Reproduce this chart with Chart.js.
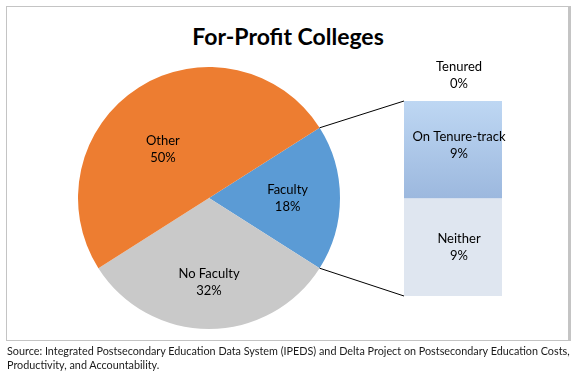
<!DOCTYPE html>
<html>
<head>
<meta charset="utf-8">
<script src="https://cdn.jsdelivr.net/npm/chart.js@4.4.0/dist/chart.umd.min.js"></script>
<style>
  html, body { margin: 0; padding: 0; background: #fff; }
  body { width: 580px; height: 381px; position: relative; overflow: hidden; font-family: Lato, "Open Sans", sans-serif; }
  #frame { position: absolute; left: 6px; top: 6px; width: 561px; height: 333px; border: 1px solid #c4c4c4; border-right: 3px solid #c4c4c4; }
  #title { position: absolute; left: 0; width: 576px; top: 22px; text-align: center; font-weight: bold; font-size: 23px; color: #000; }
  #pie { position: absolute; left: 78px; top: 67px; }
  #bar { position: absolute; left: 350px; top: 50px; }
  #links { position: absolute; left: 0; top: 0; pointer-events: none; }
  #source { position: absolute; left: 7px; top: 344px; font-size: 10.8px; line-height: 14px; color: #1a1a1a; white-space: nowrap; }
</style>
</head>
<body>
<div id="frame"></div>
<div id="title">For-Profit Colleges</div>
<canvas id="pie" width="262" height="262"></canvas>
<canvas id="bar" width="206" height="250"></canvas>
<canvas id="links" width="580" height="381"></canvas>
<div id="source">Source: Integrated Postsecondary Education Data System (IPEDS) and Delta Project on Postsecondary Education Costs,<br>Productivity, and Accountability.</div>
<script>
// pie: share of spending categories
const pieLabels = ["Faculty", "No Faculty", "Other"];
const pieValues = [18, 32, 50];
const pieColors = ["#5b9bd5", "#c9c9c9", "#ed7d31"];

// bar: breakdown of the faculty slice (stacked bottom -> top)
const barLabels = ["Neither", "On Tenure-track", "Tenured"];
const barValues = [9, 9, 0];

const labelFont = "13px Lato, 'Open Sans', sans-serif";
const pieTotal = pieValues.reduce((a, b) => a + b, 0);

// excel-ish label placement nudges (px)
const pieNudge = [[0, 0], [0, 5], [-4, 17]];

const pieLabelPlugin = {
  id: "pieLabels",
  afterDatasetsDraw(chart) {
    const ctx = chart.ctx;
    const meta = chart.getDatasetMeta(0);
    ctx.save();
    ctx.font = labelFont;
    ctx.fillStyle = "#000";
    ctx.textAlign = "center";
    ctx.textBaseline = "middle";
    meta.data.forEach((arc, i) => {
      const mid = (arc.startAngle + arc.endAngle) / 2;
      const r = arc.outerRadius * 0.6;
      const x = arc.x + Math.cos(mid) * r + pieNudge[i][0];
      const y = arc.y + Math.sin(mid) * r + pieNudge[i][1];
      const pct = Math.round(pieValues[i] / pieTotal * 100) + "%";
      ctx.fillText(pieLabels[i], x, y - 8);
      ctx.fillText(pct, x, y + 9);
    });
    ctx.restore();
  }
};

const pieChart = new Chart(document.getElementById("pie"), {
  type: "pie",
  data: {
    labels: pieLabels,
    datasets: [{ data: pieValues, backgroundColor: pieColors, borderWidth: 0 }]
  },
  options: {
    responsive: false,
    animation: false,
    rotation: 90 - pieValues[0] / pieTotal * 180,
    plugins: { legend: { display: false }, tooltip: { enabled: false } }
  },
  plugins: [pieLabelPlugin]
});

const barLabelPlugin = {
  id: "barLabels",
  afterDatasetsDraw(chart) {
    const ctx = chart.ctx;
    ctx.save();
    ctx.font = labelFont;
    ctx.fillStyle = "#000";
    ctx.textAlign = "center";
    ctx.textBaseline = "middle";
    chart.data.datasets.forEach((ds, i) => {
      const el = chart.getDatasetMeta(i).data[0];
      const top = Math.min(el.y, el.base);
      const bottom = Math.max(el.y, el.base);
      const x = el.x + 6;
      let y = (top + bottom) / 2;
      if (ds.data[0] === 0) y = top - 26;
      else if (i === 1) y -= 5;
      ctx.fillText(ds.label, x, y - 8);
      ctx.fillText(ds.data[0] + "%", x, y + 9);
    });
    ctx.restore();
  }
};

const tenureGradient = (c) => {
  const chart = c.chart;
  if (!chart.chartArea) return "#abc6e8";
  const y = chart.scales.y;
  const g = chart.ctx.createLinearGradient(0, y.getPixelForValue(barValues[0] + barValues[1]), 0, y.getPixelForValue(barValues[0]));
  g.addColorStop(0, "#bed7f3");
  g.addColorStop(1, "#9cb8de");
  return g;
};

const barColors = ["#dfe6f0", tenureGradient, "#bed7f3"];

const barChart = new Chart(document.getElementById("bar"), {
  type: "bar",
  data: {
    labels: [""],
    datasets: barLabels.map((name, i) => ({
      label: name,
      data: [barValues[i]],
      backgroundColor: barColors[i],
      borderWidth: 0,
      barPercentage: 1,
      categoryPercentage: 1
    }))
  },
  options: {
    responsive: false,
    animation: false,
    layout: { padding: { left: 54, right: 54, top: 51, bottom: 4 } },
    scales: {
      x: { stacked: true, display: false },
      y: { stacked: true, display: false, min: 0, max: barValues.reduce((a, b) => a + b, 0) }
    },
    plugins: { legend: { display: false }, tooltip: { enabled: false } }
  },
  plugins: [barLabelPlugin]
});

// connector lines from the faculty slice to the bar
const drawLinks = () => {
  const ctx = document.getElementById("links").getContext("2d");
  const arc = pieChart.getDatasetMeta(0).data[0];
  const topEl = barChart.getDatasetMeta(1).data[0];
  const botEl = barChart.getDatasetMeta(0).data[0];
  const px = 78, py = 67, bx = 350, by = 50;
  const a1 = [px + arc.x + Math.cos(arc.startAngle) * arc.outerRadius, py + arc.y + Math.sin(arc.startAngle) * arc.outerRadius];
  const a2 = [px + arc.x + Math.cos(arc.endAngle) * arc.outerRadius, py + arc.y + Math.sin(arc.endAngle) * arc.outerRadius];
  const b1 = [bx + topEl.x - topEl.width / 2, by + Math.min(topEl.y, topEl.base)];
  const b2 = [bx + botEl.x - botEl.width / 2, by + Math.max(botEl.y, botEl.base)];
  ctx.strokeStyle = "#000";
  ctx.lineWidth = 1;
  ctx.beginPath();
  ctx.moveTo(a1[0], a1[1]); ctx.lineTo(b1[0], b1[1]);
  ctx.moveTo(a2[0], a2[1]); ctx.lineTo(b2[0], b2[1]);
  ctx.stroke();
};
drawLinks();
</script>
</body>
</html>
